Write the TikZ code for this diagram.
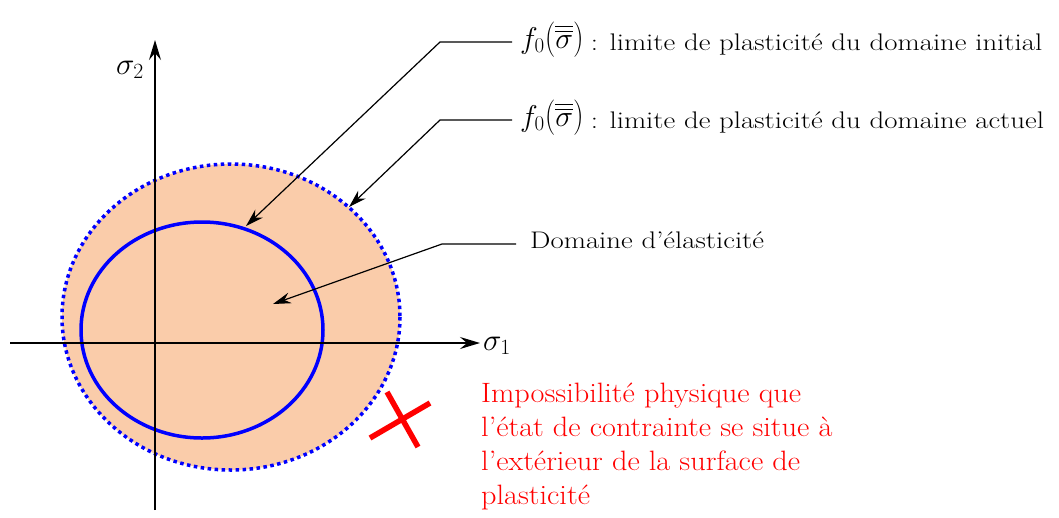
\RequirePackage{fix-cm}
\documentclass[tikz,border=0pt]{standalone}
\usepackage{amsmath}
\usepackage{graphicx}
\usepackage{fontspec}
\newfontfamily\blkfont{Latin Modern Roman}[FakeStretch=1.2]
\newfontfamily\redfont{Latin Modern Roman}[FakeStretch=1.08]
\usetikzlibrary{arrows.meta}
\definecolor{peach}{RGB}{250,204,170}
\newcommand{\tallpar}[1]{\scalebox{1}[1.18]{$#1$}}
\newcommand{\fsig}{\raisebox{2pt}{\fontsize{30}{30}\selectfont$f_0$\tallpar{(}$\overline{\overline{\sigma}}$\tallpar{)}}}
\begin{document}
\begin{tikzpicture}[x=1pt,y=-1pt,
  axis/.style={line width=1.6pt, -{Stealth[length=20pt,width=12pt,inset=7pt]}},
  leader/.style={line width=1.2pt, -{Stealth[length=18pt,width=11pt,inset=6pt]}},
  lbl/.style={font=\blkfont\fontsize{24}{28}\selectfont, anchor=base west, inner sep=0pt},
  mathlbl/.style={font=\fontsize{31}{36}\selectfont, inner sep=0pt},
  redtxt/.style={font=\redfont\fontsize{28}{34}\selectfont, text=red, align=left, anchor=north west, inner sep=0pt},
  cross/.style={red, line width=5.5pt},
]
\useasboundingbox (0,0) rectangle (1059,517);
% domains
\fill[peach] (231,317) ellipse [x radius=169, y radius=153];
\draw[blue, line width=3.5pt, dash pattern=on 3.5pt off 3.5pt] (231,317) ellipse [x radius=169, y radius=153];
\draw[blue, line width=3.5pt] (202,330) ellipse [x radius=121, y radius=108];
% axes
\coordinate (xs) at (10,343);
\coordinate (xe) at (480,343);
\coordinate (ys) at (155,510);
\coordinate (ye) at (155,40);
\draw[axis] (xs) -- (xe);
\draw[axis] (ys) -- (ye);
\node[mathlbl, anchor=base west] (s1) at (483,350) {$\sigma_1$};
\node[mathlbl, anchor=base east] (s2) at (144,74) {$\sigma_2$};
% labels
\node[lbl] (l1) at (520,50) {\fsig\hspace{7pt}: limite de plasticité du domaine initial};
\node[lbl] (l2) at (520,128) {\fsig\hspace{7pt}: limite de plasticité du domaine actuel};
\node[lbl] (l3) at (530,248) {Domaine d’élasticité};
\coordinate (t1) at (246,226);
\coordinate (t2) at (349,207);
\coordinate (t3) at (273,304);
\coordinate (k1) at (440,42);
\coordinate (k2) at (440,120);
\coordinate (k3) at (442,244);
\draw[leader] (l1.west |- k1) ++(-8,0) -- (k1) -- (t1);
\draw[leader] (l2.west |- k2) ++(-8,0) -- (k2) -- (t2);
\draw[leader] (l3.west |- k3) ++(-14,0) -- (k3) -- (t3);
% impossible
\draw[cross] (370,438) -- (430,403);
\draw[cross] (387,392) -- (418,447);
\node[redtxt] (imp) at (481,383) {Impossibilité physique que\\l’état de contrainte se situe à\\l’extérieur de la surface de\\plasticité};
\end{tikzpicture}
\end{document}
